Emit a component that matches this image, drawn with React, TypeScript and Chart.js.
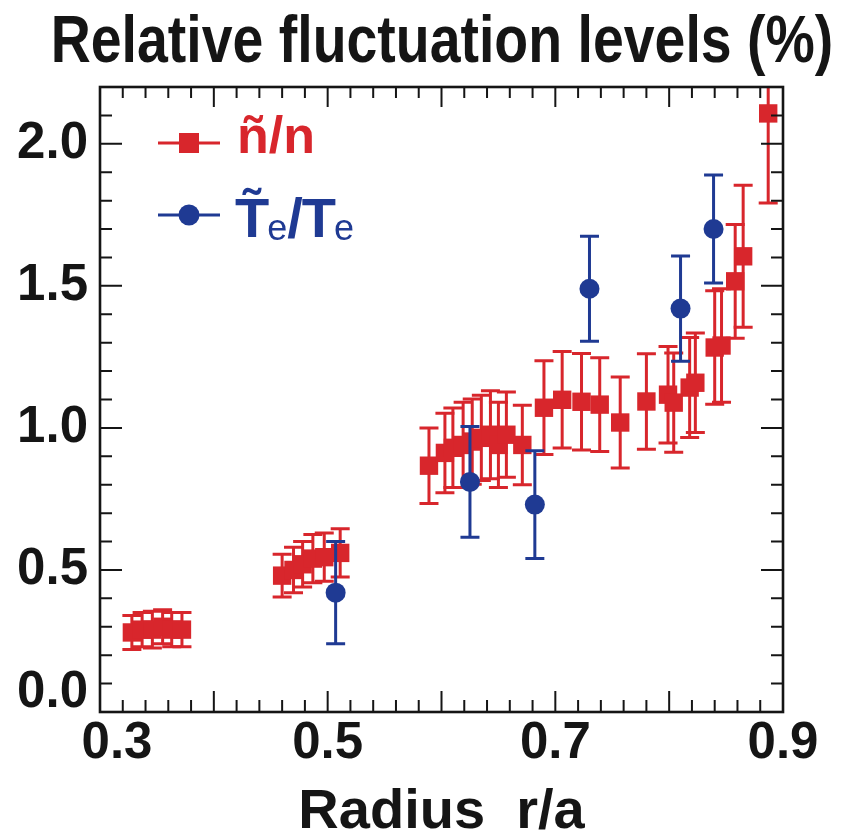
import React, { useEffect, useRef } from 'react';
import { Chart, registerables } from 'chart.js';

Chart.register(...registerables);

const TITLE = 'Relative fluctuation levels (%)';
const X_TITLE = 'Radius  r/a';
const X_TICKS = [0.3, 0.5, 0.7, 0.9];
const Y_TICKS = [0.0, 0.5, 1.0, 1.5, 2.0];

// ñ/n  (density fluctuation)
const densityR = [
  0.328, 0.337, 0.346, 0.355, 0.363, 0.372,
  0.46, 0.47, 0.478, 0.487, 0.497, 0.511,
  0.589, 0.603, 0.61, 0.619, 0.627, 0.635, 0.643, 0.65, 0.657, 0.671,
  0.69, 0.706, 0.723, 0.739, 0.757, 0.78, 0.799, 0.804, 0.818, 0.823, 0.84, 0.846, 0.858, 0.865, 0.887,
];
const densityVal = [
  0.28, 0.29, 0.29, 0.3, 0.29, 0.29,
  0.48, 0.5, 0.52, 0.54, 0.545, 0.56,
  0.867, 0.912, 0.93, 0.94, 0.952, 0.965, 0.976, 0.94, 0.976, 0.94,
  1.071, 1.099, 1.092, 1.082, 1.019, 1.093, 1.117, 1.089, 1.142, 1.159, 1.283, 1.29, 1.516, 1.604, 2.107,
];
const densityErr = [
  0.06, 0.06, 0.065, 0.06, 0.06, 0.06,
  0.075, 0.08, 0.08, 0.085, 0.085, 0.085,
  0.133, 0.14, 0.14, 0.15, 0.15, 0.15, 0.155, 0.15, 0.15, 0.14,
  0.165, 0.17, 0.17, 0.165, 0.16, 0.168, 0.17, 0.175, 0.176, 0.175, 0.2, 0.2, 0.2, 0.25, 0.315,
];

// Te~/Te (temperature fluctuation)
const tempR = [0.507, 0.625, 0.682, 0.73, 0.81, 0.839];
const tempVal = [0.42, 0.81, 0.73, 1.49, 1.42, 1.7];
const tempErr = [0.18, 0.195, 0.19, 0.185, 0.185, 0.19];

const RED = '#d8262c';
const BLUE = '#1f3a93';
const INK = '#151515';
const FONT = '"Liberation Sans", Arial, Helvetica, sans-serif';

const errorBarPlugin = {
  id: 'errorBars',
  beforeDatasetDraw(chart: any, args: any) {
    const ds = chart.data.datasets[args.index];
    if (!ds.errors) return;
    const { ctx, chartArea } = chart;
    const xs = chart.scales.x;
    const ys = chart.scales.y;
    ctx.save();
    ctx.beginPath();
    ctx.rect(chartArea.left, chartArea.top, chartArea.right - chartArea.left, chartArea.bottom - chartArea.top);
    ctx.clip();
    ctx.strokeStyle = ds.borderColor;
    ctx.lineWidth = 3;
    ds.data.forEach((p: any, i: number) => {
      const e = ds.errors[i];
      const px = xs.getPixelForValue(p.x);
      const t = ys.getPixelForValue(p.y + e);
      const b = ys.getPixelForValue(p.y - e);
      ctx.beginPath();
      ctx.moveTo(px, t);
      ctx.lineTo(px, b);
      ctx.moveTo(px - 9.5, t);
      ctx.lineTo(px + 9.5, t);
      ctx.moveTo(px - 9.5, b);
      ctx.lineTo(px + 9.5, b);
      ctx.stroke();
    });
    ctx.restore();
  },
};

const labelShiftPlugin = {
  id: 'labelShift',
  beforeDraw(chart: any) {
    try {
      const xi = chart.scales.x.getLabelItems(chart.chartArea);
      if (xi && !xi._shifted && xi.length) {
        xi._shifted = true;
        xi[0].options.translation[0] += 17;
      }
      const yi = chart.scales.y.getLabelItems(chart.chartArea);
      if (yi && !yi._shifted && yi.length) {
        yi._shifted = true;
        yi[0].options.translation[1] -= 19;
      }
    } catch (e) {
      /* ignore */
    }
  },
};

const framePlugin = {
  id: 'frame',
  afterDatasetsDraw(chart: any) {
    const { ctx, chartArea } = chart;
    const { left, right, top, bottom } = chartArea;
    const xs = chart.scales.x;
    const ys = chart.scales.y;
    ctx.save();
    ctx.strokeStyle = INK;
    ctx.lineWidth = 2;
    ctx.beginPath();
    for (let i = 0; i <= 30; i++) {
      const v = 0.3 + i * 0.02;
      const len = i % 5 === 0 ? 21 : 12;
      const px = xs.getPixelForValue(v);
      ctx.moveTo(px, bottom);
      ctx.lineTo(px, bottom - len);
      ctx.moveTo(px, top);
      ctx.lineTo(px, top + (i % 5 === 0 ? 20 : 11));
    }
    for (let i = 0; i <= 22; i++) {
      const v = i * 0.1;
      const len = i % 5 === 0 ? 22 : 12;
      const py = ys.getPixelForValue(v);
      ctx.moveTo(left, py);
      ctx.lineTo(left + len, py);
      ctx.moveTo(right, py);
      ctx.lineTo(right - len, py);
    }
    ctx.stroke();
    ctx.lineWidth = 2.6;
    ctx.strokeRect(left, top, right - left, bottom - top);
    ctx.restore();
  },
};

const titleLegendPlugin = {
  id: 'titleLegend',
  afterDraw(chart: any) {
    const { ctx } = chart;
    ctx.save();
    // Title
    ctx.fillStyle = INK;
    ctx.textBaseline = 'alphabetic';
    ctx.textAlign = 'center';
    ctx.translate(442, 62);
    ctx.scale(0.84, 1);
    ctx.font = `bold 66px ${FONT}`;
    ctx.fillText(TITLE, 0, 0);
    ctx.restore();

    // Legend
    ctx.save();
    ctx.textAlign = 'left';
    ctx.textBaseline = 'alphabetic';
    // red
    ctx.strokeStyle = RED;
    ctx.fillStyle = RED;
    ctx.lineWidth = 3;
    ctx.beginPath();
    ctx.moveTo(158, 143);
    ctx.lineTo(220, 143);
    ctx.stroke();
    ctx.fillRect(179, 133, 20, 20);
    ctx.font = `bold 52px ${FONT}`;
    ctx.fillText('ñ/n', 237, 153);
    // blue
    ctx.strokeStyle = BLUE;
    ctx.fillStyle = BLUE;
    ctx.beginPath();
    ctx.moveTo(158, 215);
    ctx.lineTo(220, 215);
    ctx.stroke();
    ctx.beginPath();
    ctx.arc(189, 215, 10.5, 0, Math.PI * 2);
    ctx.fill();
    let x = 235;
    const big = `bold 56px ${FONT}`;
    const small = `36px ${FONT}`;
    ctx.font = big;
    ctx.fillText('T\u0303', x, 237);
    x += ctx.measureText('T').width - 2;
    ctx.font = small;
    ctx.fillText('e', x, 240);
    x += ctx.measureText('e').width;
    ctx.font = big;
    ctx.fillText('/', x, 237);
    x += ctx.measureText('/').width - 1;
    ctx.fillText('T', x, 237);
    x += ctx.measureText('T').width - 2;
    ctx.font = small;
    ctx.fillText('e', x, 240);
    ctx.restore();
  },
};

export default function App() {
  const ref = useRef<HTMLCanvasElement | null>(null);

  useEffect(() => {
    if (!ref.current) return;
    const chart = new Chart(ref.current, {
      type: 'scatter',
      data: {
        datasets: [
          {
            label: 'Te~/Te',
            data: tempR.map((r, i) => ({ x: r, y: tempVal[i] })),
            errors: tempErr,
            backgroundColor: BLUE,
            borderColor: BLUE,
            pointStyle: 'circle',
            pointRadius: 10,
            pointBorderWidth: 0,
            showLine: false,
          } as any,
          {
            label: 'ñ/n',
            data: densityR.map((r, i) => ({ x: r, y: densityVal[i] })),
            errors: densityErr,
            backgroundColor: RED,
            borderColor: RED,
            pointStyle: 'rect',
            pointRadius: 13,
            pointBorderWidth: 0,
            showLine: false,
          } as any,
        ],
      },
      options: {
        animation: false,
        responsive: true,
        maintainAspectRatio: false,
        layout: { padding: { top: 87, right: 76, left: 0, bottom: 0 } },
        plugins: {
          legend: { display: false },
          tooltip: { enabled: false },
          title: { display: false },
        },
        scales: {
          x: {
            type: 'linear',
            min: 0.3,
            max: 0.9,
            afterBuildTicks: (s: any) => {
              s.ticks = X_TICKS.map((v) => ({ value: v }));
            },
            afterFit: (s: any) => {
              s.height = 123;
            },
            ticks: {
              callback: (v: any) => Number(v).toFixed(1),
              font: { family: FONT, size: 51, weight: 'bold', lineHeight: 1 },
              color: INK,
              padding: 6,
              maxRotation: 0,
              autoSkip: false,
            },
            grid: { display: false, drawTicks: false },
            border: { display: false },
            title: {
              display: true,
              text: X_TITLE,
              color: INK,
              font: { family: FONT, size: 56, weight: 'bold', lineHeight: 1 },
              padding: { top: 0, bottom: -6 },
            },
          },
          y: {
            type: 'linear',
            min: 0,
            max: 2.2,
            afterBuildTicks: (s: any) => {
              s.ticks = Y_TICKS.map((v) => ({ value: v }));
            },
            afterFit: (s: any) => {
              s.width = 100;
            },
            ticks: {
              callback: (v: any) => Number(v).toFixed(1),
              font: { family: FONT, size: 51, weight: 'bold', lineHeight: 1 },
              color: INK,
              padding: 12,
              autoSkip: false,
            },
            grid: { display: false, drawTicks: false },
            border: { display: false },
          },
        },
      } as any,
      plugins: [labelShiftPlugin, errorBarPlugin, framePlugin, titleLegendPlugin],
    });
    return () => chart.destroy();
  }, []);

  return (
    <div style={{ position: 'absolute', left: 0, top: 0, width: 859, height: 835, background: '#fff' }}>
      <canvas ref={ref} />
    </div>
  );
}
